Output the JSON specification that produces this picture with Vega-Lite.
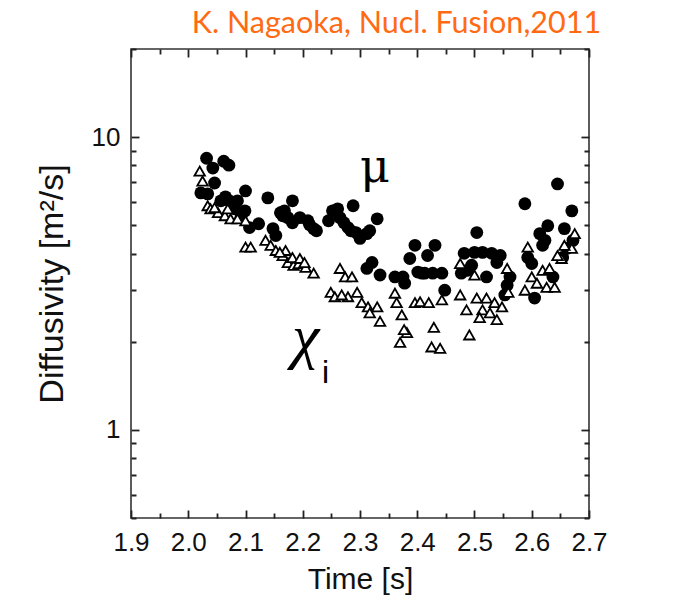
{
  "$schema": "https://vega.github.io/schema/vega-lite/v6.json",
  "width": 458,
  "height": 469,
  "autosize": {"type": "none"},
  "padding": {"left": 131, "top": 49, "right": 103, "bottom": 86},
  "background": "white",
  "config": {
    "view": {"stroke": "#333333", "strokeWidth": 1.6},
    "axis": {
      "grid": false,
      "ticks": true,
      "domain": false,
      "zindex": 1,
      "offset": -8,
      "tickSize": 8,
      "tickColor": "#222222",
      "tickWidth": 1.8,
      "labelFont": "Liberation Sans",
      "labelFontSize": 26,
      "labelColor": "#111111",
      "titleFont": "Liberation Sans",
      "titleFontWeight": "normal",
      "titleColor": "#111111",
      "labelFlush": false,
      "labelOverlap": false,
      "labelBound": false
    }
  },
  "title": {
    "text": "K. Nagaoka, Nucl. Fusion,2011",
    "anchor": "end",
    "orient": "top",
    "font": "Lato",
    "fontSize": 30.5,
    "fontWeight": "normal",
    "color": "#FF6A13",
    "offset": -3,
    "dx": -6
  },
  "datasets": {
    "mu": [
      {"time": 2.022, "value": 6.45}, {"time": 2.034, "value": 6.40}, {"time": 2.032, "value": 8.47}, {"time": 2.043, "value": 7.84},
      {"time": 2.062, "value": 8.27}, {"time": 2.071, "value": 8.02}, {"time": 2.046, "value": 6.97}, {"time": 2.057, "value": 6.06},
      {"time": 2.072, "value": 6.06}, {"time": 2.086, "value": 6.06}, {"time": 2.100, "value": 6.55}, {"time": 2.099, "value": 5.60},
      {"time": 2.092, "value": 5.31}, {"time": 2.081, "value": 5.69}, {"time": 2.107, "value": 4.91}, {"time": 2.065, "value": 6.25},
      {"time": 2.123, "value": 5.06}, {"time": 2.139, "value": 6.20}, {"time": 2.148, "value": 4.87}, {"time": 2.153, "value": 4.61},
      {"time": 2.161, "value": 5.52}, {"time": 2.174, "value": 5.31}, {"time": 2.182, "value": 6.06}, {"time": 2.182, "value": 5.10},
      {"time": 2.165, "value": 5.39}, {"time": 2.195, "value": 5.31}, {"time": 2.209, "value": 5.18}, {"time": 2.212, "value": 5.02},
      {"time": 2.219, "value": 4.87}, {"time": 2.224, "value": 4.79}, {"time": 2.168, "value": 5.60}, {"time": 2.245, "value": 5.18},
      {"time": 2.252, "value": 5.60}, {"time": 2.261, "value": 5.69}, {"time": 2.288, "value": 5.83}, {"time": 2.265, "value": 5.31},
      {"time": 2.272, "value": 5.10}, {"time": 2.279, "value": 4.91}, {"time": 2.284, "value": 4.79}, {"time": 2.300, "value": 4.51},
      {"time": 2.312, "value": 4.68}, {"time": 2.317, "value": 4.79}, {"time": 2.330, "value": 5.26}, {"time": 2.321, "value": 3.73},
      {"time": 2.312, "value": 3.56}, {"time": 2.335, "value": 3.38}, {"time": 2.293, "value": 4.72}, {"time": 2.361, "value": 3.33},
      {"time": 2.375, "value": 3.33}, {"time": 2.387, "value": 3.85}, {"time": 2.378, "value": 3.17}, {"time": 2.396, "value": 4.27},
      {"time": 2.431, "value": 4.27}, {"time": 2.418, "value": 3.94}, {"time": 2.408, "value": 3.43}, {"time": 2.413, "value": 3.43},
      {"time": 2.427, "value": 3.43}, {"time": 2.443, "value": 3.43}, {"time": 2.448, "value": 3.00}, {"time": 2.401, "value": 3.46},
      {"time": 2.482, "value": 4.01}, {"time": 2.500, "value": 4.04}, {"time": 2.514, "value": 4.04}, {"time": 2.530, "value": 4.01},
      {"time": 2.545, "value": 3.94}, {"time": 2.504, "value": 4.72}, {"time": 2.477, "value": 3.43}, {"time": 2.495, "value": 3.65},
      {"time": 2.521, "value": 3.33}, {"time": 2.539, "value": 3.73}, {"time": 2.562, "value": 3.33}, {"time": 2.557, "value": 3.12},
      {"time": 2.553, "value": 2.89}, {"time": 2.488, "value": 3.51}, {"time": 2.588, "value": 5.92}, {"time": 2.645, "value": 6.92},
      {"time": 2.670, "value": 5.60}, {"time": 2.628, "value": 4.98}, {"time": 2.614, "value": 4.68}, {"time": 2.619, "value": 4.27},
      {"time": 2.593, "value": 3.88}, {"time": 2.600, "value": 3.70}, {"time": 2.637, "value": 3.33}, {"time": 2.605, "value": 2.82},
      {"time": 2.657, "value": 4.87}, {"time": 2.672, "value": 4.44}, {"time": 2.654, "value": 3.88}, {"time": 2.662, "value": 4.17},
      {"time": 2.623, "value": 4.44}
    ],
    "chi": [
      {"time": 2.020, "value": 7.65}, {"time": 2.025, "value": 7.08}, {"time": 2.034, "value": 5.83}, {"time": 2.039, "value": 5.69},
      {"time": 2.052, "value": 5.52}, {"time": 2.064, "value": 5.39}, {"time": 2.074, "value": 5.26}, {"time": 2.086, "value": 5.26},
      {"time": 2.100, "value": 5.18}, {"time": 2.069, "value": 5.69}, {"time": 2.100, "value": 4.21}, {"time": 2.109, "value": 4.21},
      {"time": 2.046, "value": 5.74}, {"time": 2.135, "value": 4.44}, {"time": 2.144, "value": 4.27}, {"time": 2.153, "value": 4.10},
      {"time": 2.165, "value": 3.94}, {"time": 2.170, "value": 4.10}, {"time": 2.174, "value": 3.73}, {"time": 2.184, "value": 3.65},
      {"time": 2.193, "value": 3.70}, {"time": 2.205, "value": 3.59}, {"time": 2.219, "value": 3.43}, {"time": 2.182, "value": 3.88},
      {"time": 2.195, "value": 3.85}, {"time": 2.203, "value": 3.73}, {"time": 2.160, "value": 4.04}, {"time": 2.265, "value": 3.56},
      {"time": 2.274, "value": 3.33}, {"time": 2.286, "value": 3.33}, {"time": 2.249, "value": 2.95}, {"time": 2.256, "value": 2.85},
      {"time": 2.279, "value": 2.85}, {"time": 2.295, "value": 2.95}, {"time": 2.303, "value": 2.72}, {"time": 2.314, "value": 2.63},
      {"time": 2.330, "value": 2.63}, {"time": 2.317, "value": 2.51}, {"time": 2.335, "value": 2.35}, {"time": 2.268, "value": 2.89},
      {"time": 2.364, "value": 2.72}, {"time": 2.361, "value": 2.93}, {"time": 2.373, "value": 2.47}, {"time": 2.382, "value": 2.15},
      {"time": 2.370, "value": 1.99}, {"time": 2.396, "value": 2.72}, {"time": 2.405, "value": 2.74}, {"time": 2.420, "value": 2.72},
      {"time": 2.443, "value": 2.78}, {"time": 2.429, "value": 2.24}, {"time": 2.425, "value": 1.92}, {"time": 2.440, "value": 1.90},
      {"time": 2.377, "value": 2.20}, {"time": 2.475, "value": 3.70}, {"time": 2.475, "value": 2.89}, {"time": 2.500, "value": 3.38},
      {"time": 2.504, "value": 2.82}, {"time": 2.521, "value": 2.82}, {"time": 2.535, "value": 2.72}, {"time": 2.548, "value": 2.63},
      {"time": 2.486, "value": 2.57}, {"time": 2.514, "value": 2.57}, {"time": 2.527, "value": 2.51}, {"time": 2.509, "value": 2.42},
      {"time": 2.539, "value": 2.38}, {"time": 2.491, "value": 2.11}, {"time": 2.557, "value": 3.56}, {"time": 2.559, "value": 2.95},
      {"time": 2.593, "value": 4.21}, {"time": 2.600, "value": 3.33}, {"time": 2.619, "value": 3.51}, {"time": 2.609, "value": 3.17},
      {"time": 2.626, "value": 3.07}, {"time": 2.640, "value": 3.07}, {"time": 2.588, "value": 3.00}, {"time": 2.675, "value": 4.68},
      {"time": 2.670, "value": 4.17}, {"time": 2.652, "value": 3.85}, {"time": 2.657, "value": 4.27}, {"time": 2.631, "value": 3.56},
      {"time": 2.645, "value": 3.94}
    ],
    "labels_mu": [{"label": "μ", "time": 2.326, "value": 7.03}],
    "labels_chi": [{"label": "χ", "time": 2.205, "value": 1.77}],
    "labels_sub": [{"label": "i", "time": 2.240, "value": 1.45}]
  },
  "layer": [
    {
      "data": {"name": "mu"},
      "mark": {"type": "point", "shape": "circle", "filled": true, "color": "black", "size": 165, "opacity": 1},
      "encoding": {
        "x": {
          "field": "time", "type": "quantitative",
          "scale": {"domain": [1.9, 2.7], "nice": false, "zero": false},
          "axis": {
            "orient": "bottom",
            "values": [1.9, 1.95, 2.0, 2.05, 2.1, 2.15, 2.2, 2.25, 2.3, 2.35, 2.4, 2.45, 2.5, 2.55, 2.6, 2.65, 2.7],
            "labelExpr": "abs(round(datum.value*10) - datum.value*10) < 0.01 ? format(datum.value, '.1f') : ''",
            "tickDash": {"condition": {"test": "abs(round(datum.value*10) - datum.value*10) < 0.01", "value": [20, 1]}, "value": [0, 3, 5, 20]},
            "labelPadding": 11,
            "title": "Time [s]",
            "titleFontSize": 30,
            "titlePadding": 9
          }
        },
        "y": {
          "field": "value", "type": "quantitative",
          "scale": {"type": "log", "domain": [0.5, 20], "nice": false},
          "axis": {
            "orient": "left",
            "values": [0.5, 0.6, 0.7, 0.8, 0.9, 1, 2, 3, 4, 5, 6, 7, 8, 9, 10, 20],
            "labelExpr": "datum.value == 1 || datum.value == 10 ? datum.value + '' : ''",
            "tickDash": {"condition": {"test": "datum.value == 1 || datum.value == 10", "value": [20, 1]}, "value": [0, 3, 5, 20]},
            "labelPadding": 11,
            "title": "Diffusivity [m²/s]",
            "titleFontSize": 34,
            "titlePadding": 22
          }
        }
      }
    },
    {
      "data": {"name": "chi"},
      "mark": {"type": "point", "shape": "triangle-up", "filled": true, "fill": "white", "stroke": "black", "strokeWidth": 1.8, "size": 110, "opacity": 1},
      "encoding": {
        "x": {
          "field": "time", "type": "quantitative",
          "axis": {
            "orient": "top",
            "values": [1.9, 1.95, 2.0, 2.05, 2.1, 2.15, 2.2, 2.25, 2.3, 2.35, 2.4, 2.45, 2.5, 2.55, 2.6, 2.65, 2.7],
            "labels": false,
            "tickDash": {"condition": {"test": "abs(round(datum.value*10) - datum.value*10) < 0.01", "value": [20, 1]}, "value": [0, 3, 5, 20]},
            "title": null
          }
        },
        "y": {
          "field": "value", "type": "quantitative",
          "axis": {
            "orient": "right",
            "values": [0.5, 0.6, 0.7, 0.8, 0.9, 1, 2, 3, 4, 5, 6, 7, 8, 9, 10, 20],
            "labels": false,
            "tickDash": {"condition": {"test": "datum.value == 1 || datum.value == 10", "value": [20, 1]}, "value": [0, 3, 5, 20]},
            "title": null
          }
        }
      }
    },
    {
      "data": {"name": "labels_mu"},
      "mark": {"type": "text", "font": "DejaVu Serif", "fontSize": 46, "align": "center", "baseline": "alphabetic", "color": "black"},
      "encoding": {
        "x": {"field": "time", "type": "quantitative", "axis": null},
        "y": {"field": "value", "type": "quantitative", "axis": null},
        "text": {"field": "label"}
      }
    },
    {
      "data": {"name": "labels_chi"},
      "mark": {"type": "text", "font": "Liberation Serif", "fontStyle": "italic", "fontSize": 62, "align": "center", "baseline": "alphabetic", "color": "black"},
      "encoding": {
        "x": {"field": "time", "type": "quantitative", "axis": null},
        "y": {"field": "value", "type": "quantitative", "axis": null},
        "text": {"field": "label"}
      }
    },
    {
      "data": {"name": "labels_sub"},
      "mark": {"type": "text", "font": "Liberation Sans", "fontSize": 32, "align": "center", "baseline": "alphabetic", "color": "black"},
      "encoding": {
        "x": {"field": "time", "type": "quantitative", "axis": null},
        "y": {"field": "value", "type": "quantitative", "axis": null},
        "text": {"field": "label"}
      }
    }
  ],
  "resolve": {"axis": {"x": "independent", "y": "independent"}}
}
